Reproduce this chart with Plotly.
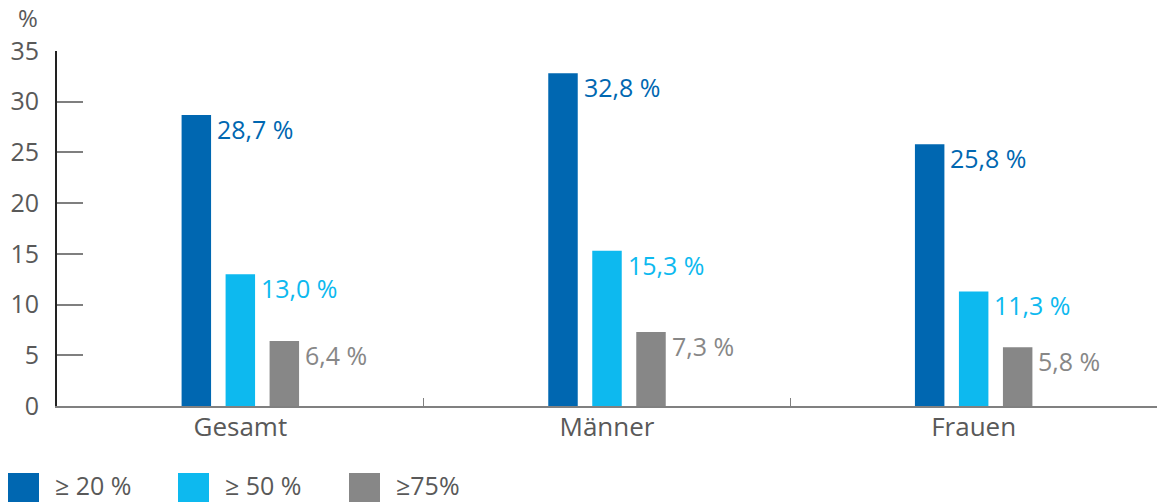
import plotly.graph_objects as go

categories = ["Gesamt", "Männer", "Frauen"]
series_names = ["≥ 20 %", "≥ 50 %", "≥75%"]
values_20 = [28.7, 32.8, 25.8]
values_50 = [13.0, 15.3, 11.3]
values_75 = [6.4, 7.3, 5.8]
label_20 = ["28,7 %", "32,8 %", "25,8 %"]
label_50 = ["13,0 %", "15,3 %", "11,3 %"]
label_75 = ["6,4 %", "7,3 %", "5,8 %"]
y_ticks = [0, 5, 10, 15, 20, 25, 30, 35]

colors = ["#0067B1", "#0DB9EF", "#878787"]
text_gray = "#595959"
FONT = "Open Sans"

W, H = 1157, 502
ml, mr, mt, mb = 57, 0, 51, 96
pw, ph = W - ml - mr, H - mt - mb
bargap = 0.64
bargroupgap = 0.33

fig = go.Figure()
all_vals = [values_20, values_50, values_75]
all_labels = [label_20, label_50, label_75]
for name, vals, col in zip(series_names, all_vals, colors):
    fig.add_trace(go.Bar(x=categories, y=vals, name=name, marker=dict(color=col, line=dict(width=0)),
                         showlegend=False, hoverinfo="skip"))

cat_px = pw / len(categories)
slot_px = cat_px * (1 - bargap) / 3
bar_px = slot_px * (1 - bargroupgap)
annotations = []
for i, (vals, labs, col) in enumerate(zip(all_vals, all_labels, colors)):
    center_off = (i - 1) * slot_px
    for c, v, t in zip(categories, vals, labs):
        annotations.append(dict(x=c, y=v, xref="x", yref="y", text=t, showarrow=False,
                                xanchor="left", yanchor="middle",
                                xshift=center_off + bar_px / 2 + 4, yshift=-14,
                                font=dict(family=FONT, size=25, color=col)))

def px_x(p):
    return (p - ml) / pw

def px_y(p):
    return (H - mb - p) / ph

annotations.append(dict(x=px_x(28), y=px_y(18), xref="paper", yref="paper", text="%",
                        showarrow=False, xanchor="center", yanchor="middle",
                        font=dict(family=FONT, size=24, color=text_gray)))

shapes = []
legend_x = [8, 178, 349]
for lx, name, col in zip(legend_x, series_names, colors):
    shapes.append(dict(type="rect", xref="paper", yref="paper",
                       x0=px_x(lx), x1=px_x(lx + 31), y0=px_y(473), y1=px_y(503),
                       fillcolor=col, line=dict(width=0), layer="above"))
    annotations.append(dict(x=px_x(lx + 45), y=px_y(485), xref="paper", yref="paper", text=name,
                            showarrow=False, xanchor="left", yanchor="middle",
                            font=dict(family=FONT, size=25, color=text_gray)))

fig.update_layout(
    width=W, height=H,
    margin=dict(l=ml, r=mr, t=mt, b=mb, pad=0, autoexpand=False),
    paper_bgcolor="white", plot_bgcolor="white",
    barmode="group", bargap=bargap, bargroupgap=bargroupgap,
    font=dict(family=FONT, size=25, color=text_gray),
    annotations=annotations, shapes=shapes,
    xaxis=dict(type="category", automargin=False, showgrid=False, showline=True, linecolor="#808080", linewidth=2,
               ticks="inside", tickson="boundaries", ticklen=8, tickcolor="#808080", tickwidth=1,
               ticklabelstandoff=-3,
               tickfont=dict(family=FONT, size=26, color=text_gray), zeroline=False),
    yaxis=dict(range=[0, 35], automargin=False, tickvals=y_ticks, showgrid=False, showline=True, linecolor="#222222",
               linewidth=2, ticks="inside", ticklen=26, tickcolor="#7f7f7f", tickwidth=2,
               ticklabelstandoff=11,
               tickfont=dict(family=FONT, size=25, color=text_gray), zeroline=False),
)

fig.write_html("out.html", config={"displayModeBar": False},
               post_script="document.body.style.margin='0';document.body.style.overflow='hidden';")
